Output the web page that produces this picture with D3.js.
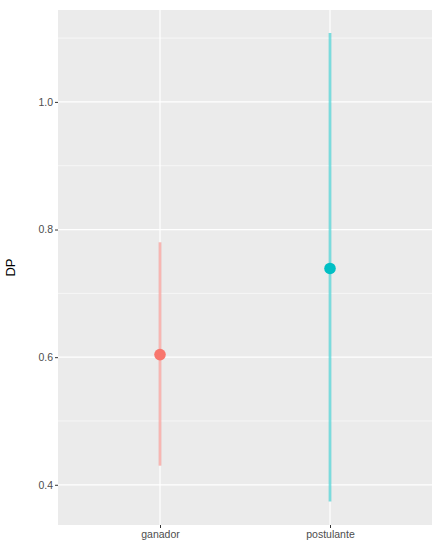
<!DOCTYPE html>
<html>
<head>
<meta charset="utf-8">
<script src="https://cdn.jsdelivr.net/npm/d3@7"></script>
<style>
  body { margin: 0; background: #fff; }
  svg text { font-family: "Liberation Sans", Arial, sans-serif; }
</style>
</head>
<body>
<svg id="chart" width="432" height="552"></svg>
<script>
// data
let groups = ["ganador", "postulante"];
let dp_mid = [0.604, 0.739];
let dp_low = [0.43, 0.374];
let dp_high = [0.78, 1.108];
let colors = ["#F8766D", "#00BFC4"];
let y_ticks = [0.4, 0.6, 0.8, 1.0];
let y_minor = [0.3, 0.5, 0.7, 0.9, 1.1];

let svg = d3.select("#chart");

let margin = {top: 10, right: 0, bottom: 27, left: 58},
    width = 432 - margin.left - margin.right,
    height = 552 - margin.top - margin.bottom;

// discrete x like ggplot: 0.6 units of padding on each side
let x = d3.scalePoint().domain(groups).range([0, width]).padding(0.6),
    y = d3.scaleLinear().domain([0.337, 1.144]).range([height, 0]);

let g = svg.append("g").attr("transform", `translate(${margin.left}, ${margin.top})`);

// panel
g.append("rect").attr("width", width).attr("height", height).attr("fill", "#EBEBEB");

// minor gridlines
g.selectAll("line.minor").data(y_minor.filter(v => v > y.domain()[0] && v < y.domain()[1])).enter()
  .append("line").classed("minor", true)
  .attr("x1", 0).attr("x2", width)
  .attr("y1", d => y(d)).attr("y2", d => y(d))
  .attr("stroke", "#fff").attr("stroke-width", 0.6);

// major gridlines
g.selectAll("line.major").data(y_ticks).enter()
  .append("line").classed("major", true)
  .attr("x1", 0).attr("x2", width)
  .attr("y1", d => y(d)).attr("y2", d => y(d))
  .attr("stroke", "#fff").attr("stroke-width", 1.2);

g.selectAll("line.vmajor").data(groups).enter()
  .append("line").classed("vmajor", true)
  .attr("x1", d => x(d)).attr("x2", d => x(d))
  .attr("y1", 0).attr("y2", height)
  .attr("stroke", "#fff").attr("stroke-width", 1.2);

// axes
let y_axis = g.append("g")
  .call(d3.axisLeft(y).tickValues(y_ticks).tickFormat(d3.format(".1f")).tickSize(3).tickPadding(2));
let x_axis = g.append("g").attr("transform", `translate(0, ${height})`)
  .call(d3.axisBottom(x).tickSize(3).tickPadding(3));

[y_axis, x_axis].forEach(a => {
  a.select(".domain").remove();
  a.selectAll(".tick line").attr("stroke", "#333").attr("stroke-width", 1);
  a.selectAll(".tick text").attr("fill", "#4D4D4D").style("font-size", "10.5px");
});

// axis title
svg.append("text")
  .attr("transform", `translate(15, ${margin.top + height / 2}) rotate(-90)`)
  .attr("text-anchor", "middle")
  .style("font-size", "13px")
  .attr("fill", "#000")
  .text("DP");

// ranges
g.selectAll("line.range").data(groups).enter()
  .append("line").classed("range", true)
  .attr("x1", d => x(d)).attr("x2", d => x(d))
  .attr("y1", (d, i) => y(dp_low[i])).attr("y2", (d, i) => y(dp_high[i]))
  .attr("stroke", (d, i) => colors[i]).attr("stroke-opacity", 0.5).attr("stroke-width", 2.7);

// points
g.selectAll("circle.pt").data(groups).enter()
  .append("circle").classed("pt", true)
  .attr("cx", d => x(d)).attr("cy", (d, i) => y(dp_mid[i]))
  .attr("r", 5.8)
  .attr("fill", (d, i) => colors[i]);
</script>
</body>
</html>
